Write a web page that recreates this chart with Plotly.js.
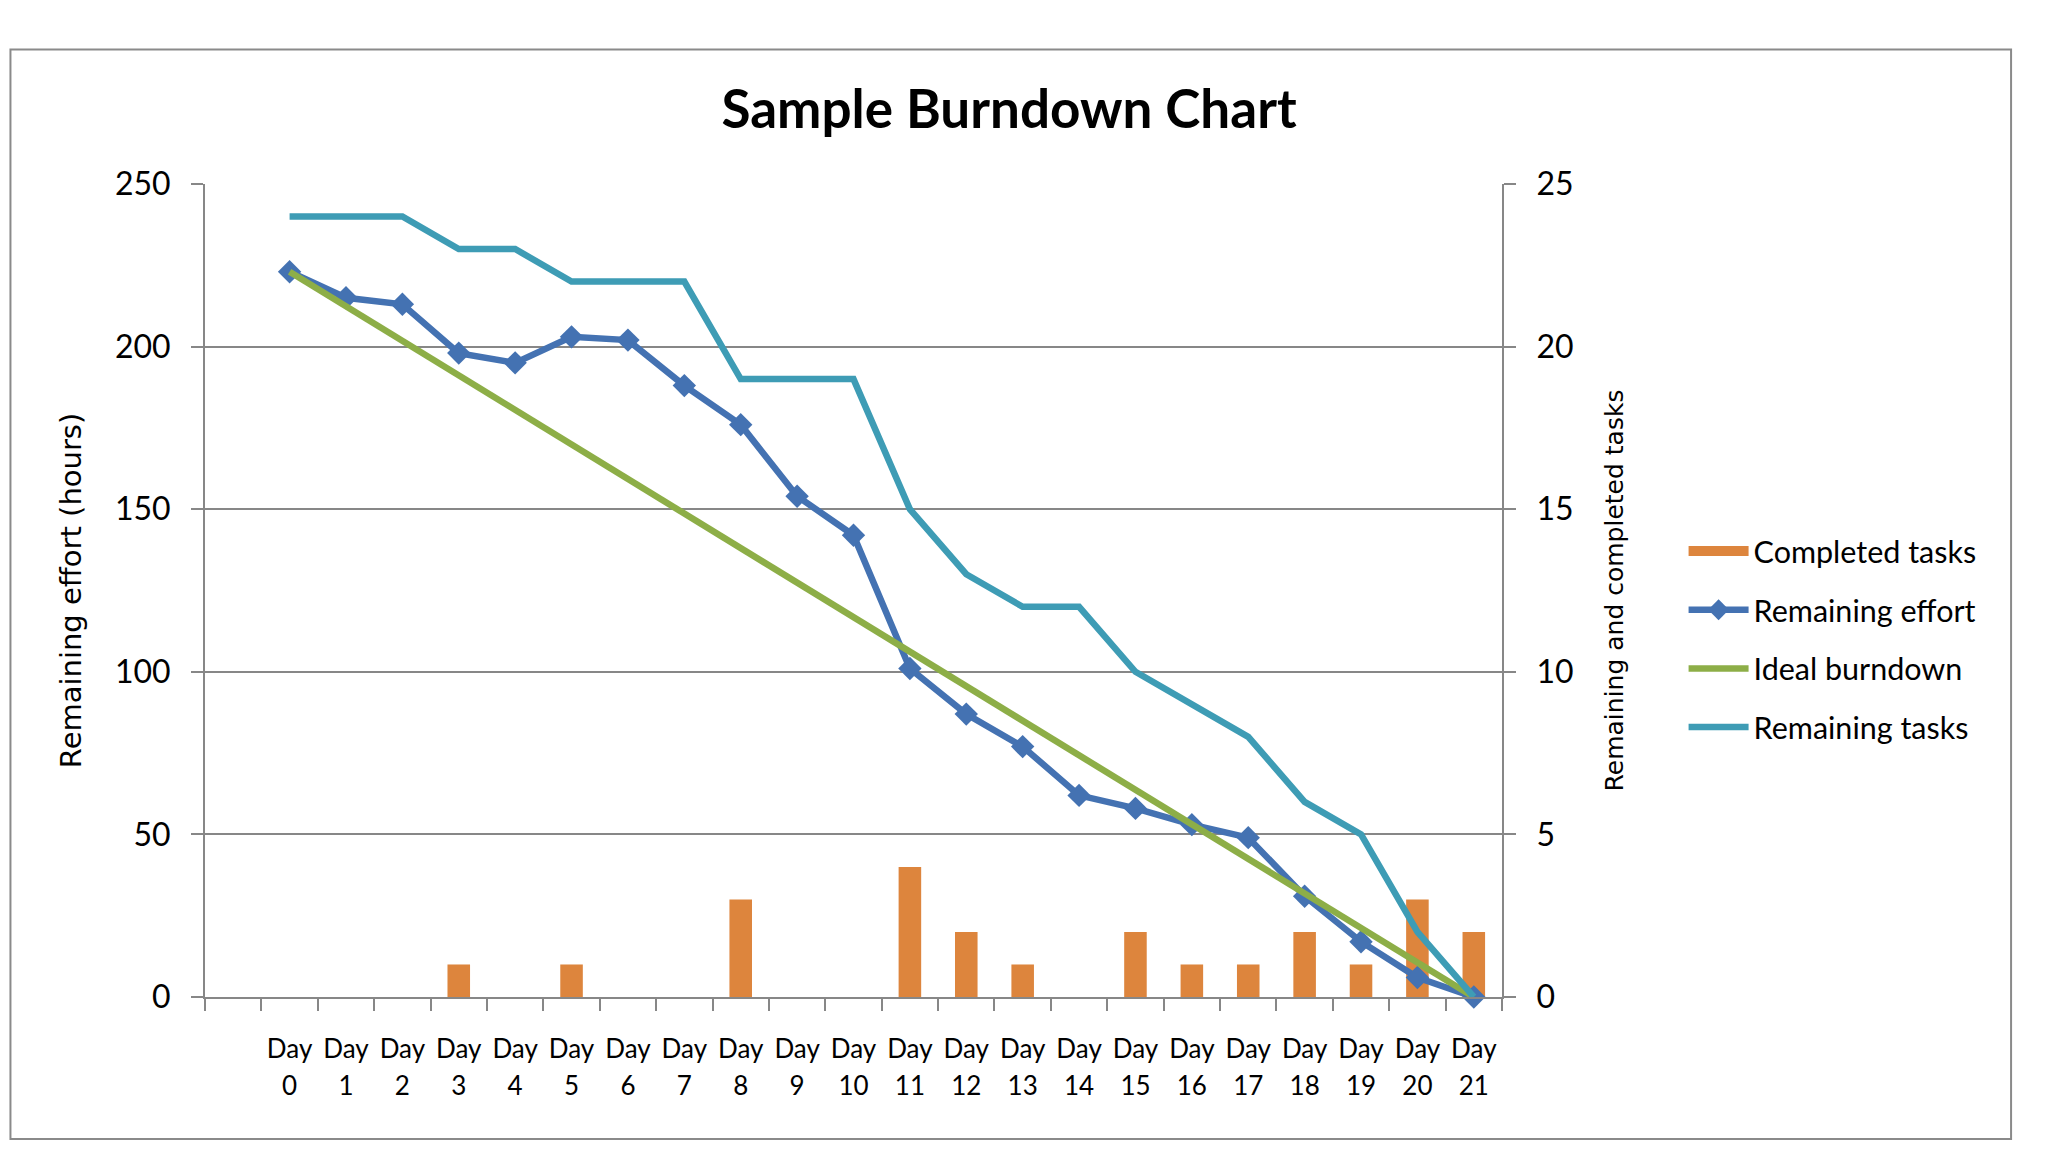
<!DOCTYPE html>
<html>
<head>
<meta charset="utf-8">
<script src="https://cdn.plot.ly/plotly-3.0.1.min.js"></script>
<style>html,body{margin:0;padding:0;background:#fff;}#chart{width:2048px;height:1152px;}</style>
</head>
<body>
<div id="chart"></div>
<script>
const days = [0,1,2,3,4,5,6,7,8,9,10,11,12,13,14,15,16,17,18,19,20,21];
const dayWords = ["Day","Day","Day","Day","Day","Day","Day","Day","Day","Day","Day","Day","Day","Day","Day","Day","Day","Day","Day","Day","Day","Day"];
const dayNumbers = ["0","1","2","3","4","5","6","7","8","9","10","11","12","13","14","15","16","17","18","19","20","21"];
const completedTasks = [0,0,0,1,0,1,0,0,3,0,0,4,2,1,0,2,1,1,2,1,3,2];
const remainingEffort = [223,215,213,198,195,203,202,188,176,154,142,101,87,77,62,58,53,49,31,17,6,0];
const idealBurndown = [223,212.4,201.8,191.1,180.5,169.9,159.3,148.7,138.0,127.4,116.8,106.2,95.6,84.9,74.3,63.7,53.1,42.5,31.9,21.2,10.6,0];
const remainingTasks = [24,24,24,23,23,22,22,22,19,19,19,15,13,12,12,10,9,8,6,5,2,0];
const leftTicks = [0,50,100,150,200,250];
const rightTicks = [0,5,10,15,20,25];

const gridCol = '#878787';
const orange = '#DD853D';
const tickFont = {family: 'Lato, "Open Sans", sans-serif', size: 32, color: '#000'};
const xFont = {family: 'Lato, "Open Sans", sans-serif', size: 26, color: '#000'};

const traces = [
  {type:'bar', name:'Completed tasks', x:days, y:completedTasks, xaxis:'x', yaxis:'y', width:0.4,
   marker:{color:orange}, showlegend:false, legendgroup:'a'},
  {type:'scatter', mode:'lines', name:'Completed tasks', x:[null], y:[null], xaxis:'x', yaxis:'y',
   line:{color:orange, width:20}, legendgroup:'a', showlegend:true},
  {type:'scatter', mode:'lines+markers', name:'Remaining effort', x:days, y:remainingEffort, xaxis:'x', yaxis:'y2',
   line:{color:'#4472B2', width:6.5}, marker:{symbol:'diamond', size:18, color:'#4472B2'}, cliponaxis:false, legendgroup:'b'},
  {type:'scatter', mode:'lines', name:'Ideal burndown', x:days, y:idealBurndown, xaxis:'x', yaxis:'y2',
   line:{color:'#8DAE47', width:6.5}, legendgroup:'c'},
  {type:'scatter', mode:'lines', name:'Remaining tasks', x:days, y:remainingTasks, xaxis:'x2', yaxis:'y',
   line:{color:'#3E9CB5', width:6.5}, legendgroup:'d'}
];

const layout = {
  width:2048, height:1152,
  margin:{l:205, r:546, t:184, b:155},
  paper_bgcolor:'#fff', plot_bgcolor:'rgba(0,0,0,0)',
  showlegend:true,
  title:{text:'<b>Sample Burndown Chart</b>', xref:'container', x:0.4927, xanchor:'center', yref:'container', y:0.905, yanchor:'middle',
         font:{family:'Lato, "Open Sans", sans-serif', size:53, color:'#000'}},
  xaxis:{range:[-1.5,21.5], tickmode:'array', tickvals:days, ticktext:dayWords, ticks:'',
         showline:true, linecolor:gridCol, linewidth:2, showgrid:false, zeroline:false,
         ticklabelstandoff:28, tickfont:xFont,
         minor:{tick0:-0.5, dtick:1, ticks:'outside', ticklen:12, tickwidth:2, tickcolor:gridCol, showgrid:false}},
  xaxis2:{overlaying:'x', anchor:'y', side:'bottom', range:[-1.5,21.5], tickmode:'array', tickvals:days, ticktext:dayNumbers, ticks:'',
         showline:false, showgrid:false, zeroline:false, ticklabelstandoff:71, tickfont:xFont},
  yaxis:{side:'right', range:[0,25], tickmode:'array', tickvals:rightTicks, showgrid:true, gridcolor:gridCol, gridwidth:2,
         showline:true, linecolor:gridCol, linewidth:2, zeroline:false, ticks:'outside', ticklen:12, tickwidth:2, tickcolor:gridCol,
         tickfont:tickFont, ticklabelstandoff:14,
         title:{text:'Remaining and completed tasks', standoff:33, font:{family:'"DejaVu Sans", sans-serif', size:25, color:'#000'}}},
  yaxis2:{side:'left', overlaying:'y', range:[0,250], tickmode:'array', tickvals:leftTicks, showgrid:false,
         showline:true, linecolor:gridCol, linewidth:2, zeroline:false, ticks:'outside', ticklen:12, tickwidth:2, tickcolor:gridCol,
         tickfont:tickFont, ticklabelstandoff:14,
         title:{text:'Remaining effort (hours)', standoff:25, font:{family:'"DejaVu Sans", sans-serif', size:29, color:'#000'}}},
  legend:{x:1.14, xanchor:'left', y:0.44, yanchor:'middle', bgcolor:'rgba(0,0,0,0)', borderwidth:0,
          tracegroupgap:16, traceorder:'grouped', itemwidth:60,
          font:{family:'Lato, "Open Sans", sans-serif', size:30.5, color:'#000'}},
  shapes:[{type:'rect', xref:'paper', yref:'paper', x0:-0.150, x1:1.3925, y0:-0.1747, y1:1.1653,
           line:{color:'#8a8a8a', width:2}, fillcolor:'rgba(0,0,0,0)', layer:'below'}]
};

Plotly.newPlot('chart', traces, layout, {staticPlot:true, displayModeBar:false});
</script>
</body>
</html>
